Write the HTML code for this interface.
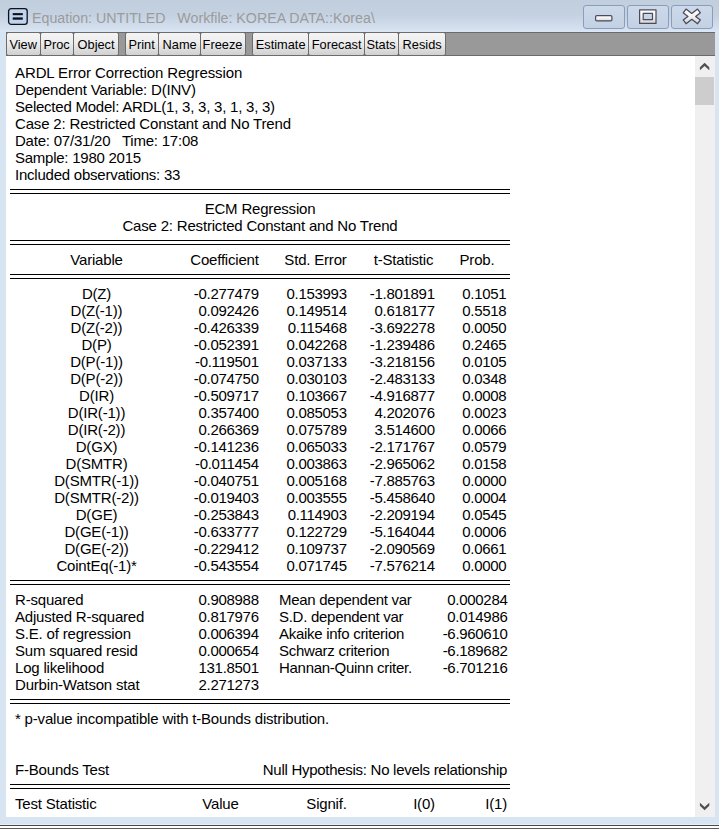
<!DOCTYPE html>
<html><head><meta charset="utf-8"><title>Equation: UNTITLED</title>
<style>
html,body{margin:0;padding:0}
body{width:719px;height:829px;overflow:hidden;position:relative;background:#d7e4f2;font-family:"Liberation Sans",Arial,sans-serif}
#titlebar{position:absolute;left:0;top:0;width:719px;height:32px;background:linear-gradient(180deg,#c0cedd 0,#c4d1e1 15px,#d0dceb 25px,#d8e4f1 31px,#dde9f6 32px)}
#title{position:absolute;left:32.3px;top:8px;font-size:15.2px;color:#9b9b9b;white-space:pre;line-height:20px;transform:scaleX(0.936);transform-origin:0 0}
#icon{position:absolute;left:7px;top:7px}
#icon i{position:absolute;left:3.5px;width:10px;height:2.4px;background:#111}
.wb{position:absolute;top:5px;height:24px;border:1px solid #8c9cbe;border-radius:3px;background:linear-gradient(180deg,#ccd9e9,#c3d1e4);box-sizing:border-box}
#toolbar{position:absolute;left:6px;top:32px;width:709px;height:24px;background:#999;border-top:1px solid #6a6a6a;border-bottom:1px solid #6a6a6a;box-sizing:border-box}
.tb{position:absolute;top:32px;height:24px;box-sizing:border-box;border:1px solid #6c6c6c;border-radius:2.5px;background:linear-gradient(180deg,#f4f4f4 0,#ededed 45%,#d0d0d0 100%);font-size:13.2px;color:#000;text-align:center;line-height:23px;white-space:nowrap}
#content{position:absolute;left:6px;top:56px;width:689px;height:761px;background:#fff}
#sb{position:absolute;left:695px;top:56px;width:20px;height:761px;background:#f0f0f0}
#thumb{position:absolute;left:0;top:21px;width:19px;height:28px;background:#cdcdcd}
.t{position:absolute;font-size:15px;letter-spacing:-0.19px;line-height:17px;height:17px;white-space:nowrap;color:#000}
.r{text-align:right}
.n{letter-spacing:-0.3px}
.l2{letter-spacing:-0.28px}
.c{text-align:center}
.dl{position:absolute;left:10px;width:500px;height:3px;border-top:1px solid #000;border-bottom:1px solid #000;box-sizing:content-box}
#bot1{position:absolute;left:0;top:824px;width:719px;height:5px;background:#fff;border-top:1px solid #e6eefa;border-bottom:1px solid #5a5a5a;box-sizing:border-box}
#bot2{position:absolute;left:0;top:825px;width:719px;height:1px;background:#4a4a4a}
</style></head><body>
<svg width="0" height="0" style="position:absolute"><defs><linearGradient id="gg" x1="0" y1="0" x2="0" y2="1"><stop offset="0" stop-color="#ffffff"/><stop offset="0.5" stop-color="#f2f2f2"/><stop offset="1" stop-color="#d4d4d4"/></linearGradient></defs></svg>
<div id="titlebar"></div>
<svg id="icon" width="22" height="19" viewBox="0 0 22 19"><rect x="1.6" y="1.6" width="18.6" height="15.7" rx="2.6" fill="#bdd5f1" stroke="#111" stroke-width="1.3"/><rect x="5.7" y="6.100" width="10.100" height="2.100" fill="#111"/><rect x="5.700" y="10.400" width="10.100" height="2.300" fill="#111"/></svg>
<div id="title">Equation: UNTITLED   Workfile: KOREA DATA::Korea\</div>
<div class="wb" style="left:583px;width:42px"><svg width="40" height="22" viewBox="0 0 40 22"><rect x="11.6" y="9.6" width="16.3" height="5.3" rx="1.2" fill="url(#gg)" stroke="#4b4b5c" stroke-width="1.2"/></svg></div>
<div class="wb" style="left:627px;width:42px"><svg width="40" height="22" viewBox="0 0 40 22"><path d="M11.6 3.8h16.4v13.6h-16.4z M15.2 7.4v6.2h9.3v-6.2z" fill="url(#gg)" fill-rule="evenodd" stroke="#4b4b5c" stroke-width="1.2" stroke-linejoin="round"/></svg></div>
<div class="wb" style="left:671px;width:42px"><svg width="40" height="22" viewBox="0 0 40 22"><g transform="translate(19.8,10.4)"><path d="M-8.59 -3.56 L-5.75 -7.31 L0.00 -2.95 L5.75 -7.31 L8.59 -3.56 L3.89 0.00 L8.59 3.56 L5.75 7.31 L0.00 2.95 L-5.75 7.31 L-8.59 3.56 L-3.89 0.00z" fill="url(#gg)" stroke="#4b4b5c" stroke-width="1.3" stroke-linejoin="round"/></g></svg></div>
<div id="toolbar"></div>
<div class="tb" style="left:6px;width:35px"><span style="display:inline-block;transform:scaleX(0.97)">View</span></div><div class="tb" style="left:40px;width:34px"><span style="display:inline-block;transform:scaleX(0.97)">Proc</span></div><div class="tb" style="left:73px;width:46px"><span style="display:inline-block;transform:scaleX(0.97)">Object</span></div><div class="tb" style="left:125px;width:34px"><span style="display:inline-block;transform:scaleX(0.97)">Print</span></div><div class="tb" style="left:158px;width:43px"><span style="display:inline-block;transform:scaleX(0.97)">Name</span></div><div class="tb" style="left:200px;width:46px"><span style="display:inline-block;transform:scaleX(0.97)">Freeze</span></div><div class="tb" style="left:252px;width:57px"><span style="display:inline-block;transform:scaleX(0.97)">Estimate</span></div><div class="tb" style="left:308px;width:57px"><span style="display:inline-block;transform:scaleX(0.97)">Forecast</span></div><div class="tb" style="left:364px;width:35px"><span style="display:inline-block;transform:scaleX(0.97)">Stats</span></div><div class="tb" style="left:398px;width:48px"><span style="display:inline-block;transform:scaleX(0.97)">Resids</span></div>
<div id="content"></div>
<div id="sb"><svg style="position:absolute;left:0;top:0" width="20" height="20" viewBox="0 0 20 20"><path d="M4.900 14.200V11.200L9.600 6.700 14.300 11.200V14.200L9.600 9.900z" fill="#505050"/></svg><div id="thumb"></div><svg style="position:absolute;left:0;bottom:0" width="20" height="20" viewBox="0 0 20 20"><path d="M4.900 5.800V8.800L9.600 13.300 14.300 8.800V5.800L9.600 10.100z" fill="#505050"/></svg></div>
<div class="t" style="top:64px;left:15px;letter-spacing:-0.1px">ARDL Error Correction Regression</div><div class="t" style="top:81px;left:15px">Dependent Variable: D(INV)</div><div class="t" style="top:98px;left:15px;letter-spacing:-0.23px">Selected Model: ARDL(1, 3, 3, 3, 1, 3, 3)</div><div class="t" style="top:115px;left:15px;letter-spacing:-0.17px">Case 2: Restricted Constant and No Trend</div><div class="t" style="top:132px;left:15px;letter-spacing:-0.22px">Date: 07/31/20&nbsp;&nbsp; Time: 17:08</div><div class="t" style="top:149px;left:15px;letter-spacing:-0.25px">Sample: 1980 2015</div><div class="t" style="top:166px;left:15px;letter-spacing:-0.23px">Included observations: 33</div><div class="dl" style="top:189px"></div><div class="t c" style="top:200px;left:110px;width:300px">ECM Regression</div><div class="t c" style="top:217px;left:110px;width:300px">Case 2: Restricted Constant and No Trend</div><div class="dl" style="top:240px"></div><div class="t c" style="top:251px;left:-53.5px;width:300px">Variable</div><div class="t c" style="top:251px;left:74.5px;width:300px">Coefficient</div><div class="t c" style="top:251px;left:165.5px;width:300px">Std. Error</div><div class="t c" style="top:251px;left:253.5px;width:300px">t-Statistic</div><div class="t c" style="top:251px;left:327px;width:300px">Prob.</div><div class="dl" style="top:274px"></div><div class="t c" style="top:285px;left:-53.5px;width:300px">D(Z)</div><div class="t r n" style="top:285px;right:460.3px">-0.277479</div><div class="t r n" style="top:285px;right:372.3px">0.153993</div><div class="t r n" style="top:285px;right:284.3px">-1.801891</div><div class="t r n" style="top:285px;right:212.7px">0.1051</div><div class="t c" style="top:302px;left:-53.5px;width:300px">D(Z(-1))</div><div class="t r n" style="top:302px;right:460.3px">0.092426</div><div class="t r n" style="top:302px;right:372.3px">0.149514</div><div class="t r n" style="top:302px;right:284.3px">0.618177</div><div class="t r n" style="top:302px;right:212.7px">0.5518</div><div class="t c" style="top:319px;left:-53.5px;width:300px">D(Z(-2))</div><div class="t r n" style="top:319px;right:460.3px">-0.426339</div><div class="t r n" style="top:319px;right:372.3px">0.115468</div><div class="t r n" style="top:319px;right:284.3px">-3.692278</div><div class="t r n" style="top:319px;right:212.7px">0.0050</div><div class="t c" style="top:336px;left:-53.5px;width:300px">D(P)</div><div class="t r n" style="top:336px;right:460.3px">-0.052391</div><div class="t r n" style="top:336px;right:372.3px">0.042268</div><div class="t r n" style="top:336px;right:284.3px">-1.239486</div><div class="t r n" style="top:336px;right:212.7px">0.2465</div><div class="t c" style="top:353px;left:-53.5px;width:300px">D(P(-1))</div><div class="t r n" style="top:353px;right:460.3px">-0.119501</div><div class="t r n" style="top:353px;right:372.3px">0.037133</div><div class="t r n" style="top:353px;right:284.3px">-3.218156</div><div class="t r n" style="top:353px;right:212.7px">0.0105</div><div class="t c" style="top:370px;left:-53.5px;width:300px">D(P(-2))</div><div class="t r n" style="top:370px;right:460.3px">-0.074750</div><div class="t r n" style="top:370px;right:372.3px">0.030103</div><div class="t r n" style="top:370px;right:284.3px">-2.483133</div><div class="t r n" style="top:370px;right:212.7px">0.0348</div><div class="t c" style="top:387px;left:-53.5px;width:300px">D(IR)</div><div class="t r n" style="top:387px;right:460.3px">-0.509717</div><div class="t r n" style="top:387px;right:372.3px">0.103667</div><div class="t r n" style="top:387px;right:284.3px">-4.916877</div><div class="t r n" style="top:387px;right:212.7px">0.0008</div><div class="t c" style="top:404px;left:-53.5px;width:300px">D(IR(-1))</div><div class="t r n" style="top:404px;right:460.3px">0.357400</div><div class="t r n" style="top:404px;right:372.3px">0.085053</div><div class="t r n" style="top:404px;right:284.3px">4.202076</div><div class="t r n" style="top:404px;right:212.7px">0.0023</div><div class="t c" style="top:421px;left:-53.5px;width:300px">D(IR(-2))</div><div class="t r n" style="top:421px;right:460.3px">0.266369</div><div class="t r n" style="top:421px;right:372.3px">0.075789</div><div class="t r n" style="top:421px;right:284.3px">3.514600</div><div class="t r n" style="top:421px;right:212.7px">0.0066</div><div class="t c" style="top:438px;left:-53.5px;width:300px">D(GX)</div><div class="t r n" style="top:438px;right:460.3px">-0.141236</div><div class="t r n" style="top:438px;right:372.3px">0.065033</div><div class="t r n" style="top:438px;right:284.3px">-2.171767</div><div class="t r n" style="top:438px;right:212.7px">0.0579</div><div class="t c" style="top:455px;left:-53.5px;width:300px">D(SMTR)</div><div class="t r n" style="top:455px;right:460.3px">-0.011454</div><div class="t r n" style="top:455px;right:372.3px">0.003863</div><div class="t r n" style="top:455px;right:284.3px">-2.965062</div><div class="t r n" style="top:455px;right:212.7px">0.0158</div><div class="t c" style="top:472px;left:-53.5px;width:300px">D(SMTR(-1))</div><div class="t r n" style="top:472px;right:460.3px">-0.040751</div><div class="t r n" style="top:472px;right:372.3px">0.005168</div><div class="t r n" style="top:472px;right:284.3px">-7.885763</div><div class="t r n" style="top:472px;right:212.7px">0.0000</div><div class="t c" style="top:489px;left:-53.5px;width:300px">D(SMTR(-2))</div><div class="t r n" style="top:489px;right:460.3px">-0.019403</div><div class="t r n" style="top:489px;right:372.3px">0.003555</div><div class="t r n" style="top:489px;right:284.3px">-5.458640</div><div class="t r n" style="top:489px;right:212.7px">0.0004</div><div class="t c" style="top:506px;left:-53.5px;width:300px">D(GE)</div><div class="t r n" style="top:506px;right:460.3px">-0.253843</div><div class="t r n" style="top:506px;right:372.3px">0.114903</div><div class="t r n" style="top:506px;right:284.3px">-2.209194</div><div class="t r n" style="top:506px;right:212.7px">0.0545</div><div class="t c" style="top:523px;left:-53.5px;width:300px">D(GE(-1))</div><div class="t r n" style="top:523px;right:460.3px">-0.633777</div><div class="t r n" style="top:523px;right:372.3px">0.122729</div><div class="t r n" style="top:523px;right:284.3px">-5.164044</div><div class="t r n" style="top:523px;right:212.7px">0.0006</div><div class="t c" style="top:540px;left:-53.5px;width:300px">D(GE(-2))</div><div class="t r n" style="top:540px;right:460.3px">-0.229412</div><div class="t r n" style="top:540px;right:372.3px">0.109737</div><div class="t r n" style="top:540px;right:284.3px">-2.090569</div><div class="t r n" style="top:540px;right:212.7px">0.0661</div><div class="t c" style="top:557px;left:-53.5px;width:300px">CointEq(-1)*</div><div class="t r n" style="top:557px;right:460.3px">-0.543554</div><div class="t r n" style="top:557px;right:372.3px">0.071745</div><div class="t r n" style="top:557px;right:284.3px">-7.576214</div><div class="t r n" style="top:557px;right:212.7px">0.0000</div><div class="dl" style="top:580px"></div><div class="t" style="top:591px;left:15px">R-squared</div><div class="t r n" style="top:591px;right:460.3px">0.908988</div><div class="t l2" style="top:591px;left:279px">Mean dependent var</div><div class="t r n" style="top:591px;right:211.5px">0.000284</div><div class="t" style="top:608px;left:15px">Adjusted R-squared</div><div class="t r n" style="top:608px;right:460.3px">0.817976</div><div class="t l2" style="top:608px;left:279px">S.D. dependent var</div><div class="t r n" style="top:608px;right:211.5px">0.014986</div><div class="t" style="top:625px;left:15px">S.E. of regression</div><div class="t r n" style="top:625px;right:460.3px">0.006394</div><div class="t l2" style="top:625px;left:279px">Akaike info criterion</div><div class="t r n" style="top:625px;right:211.5px">-6.960610</div><div class="t" style="top:642px;left:15px">Sum squared resid</div><div class="t r n" style="top:642px;right:460.3px">0.000654</div><div class="t l2" style="top:642px;left:279px">Schwarz criterion</div><div class="t r n" style="top:642px;right:211.5px">-6.189682</div><div class="t" style="top:659px;left:15px">Log likelihood</div><div class="t r n" style="top:659px;right:460.3px">131.8501</div><div class="t l2" style="top:659px;left:279px">Hannan-Quinn criter.</div><div class="t r n" style="top:659px;right:211.5px">-6.701216</div><div class="t" style="top:676px;left:15px">Durbin-Watson stat</div><div class="t r n" style="top:676px;right:460.3px">2.271273</div><div class="t l2" style="top:676px;left:279px"></div><div class="t r n" style="top:676px;right:211.5px"></div><div class="dl" style="top:699px"></div><div class="t" style="top:710px;left:15px">* p-value incompatible with t-Bounds distribution.</div><div class="t" style="top:761px;left:15px">F-Bounds Test</div><div class="t r l2" style="top:761px;right:212px">Null Hypothesis: No levels relationship</div><div class="dl" style="top:784px"></div><div class="t" style="top:795px;left:15px">Test Statistic</div><div class="t c" style="top:795px;left:70.5px;width:300px">Value</div><div class="t c" style="top:795px;left:176.5px;width:300px">Signif.</div><div class="t c" style="top:795px;left:274px;width:300px">I(0)</div><div class="t r" style="top:795px;right:212px">I(1)</div>
<div id="bot1"></div><div id="bot2"></div>
</body></html>
